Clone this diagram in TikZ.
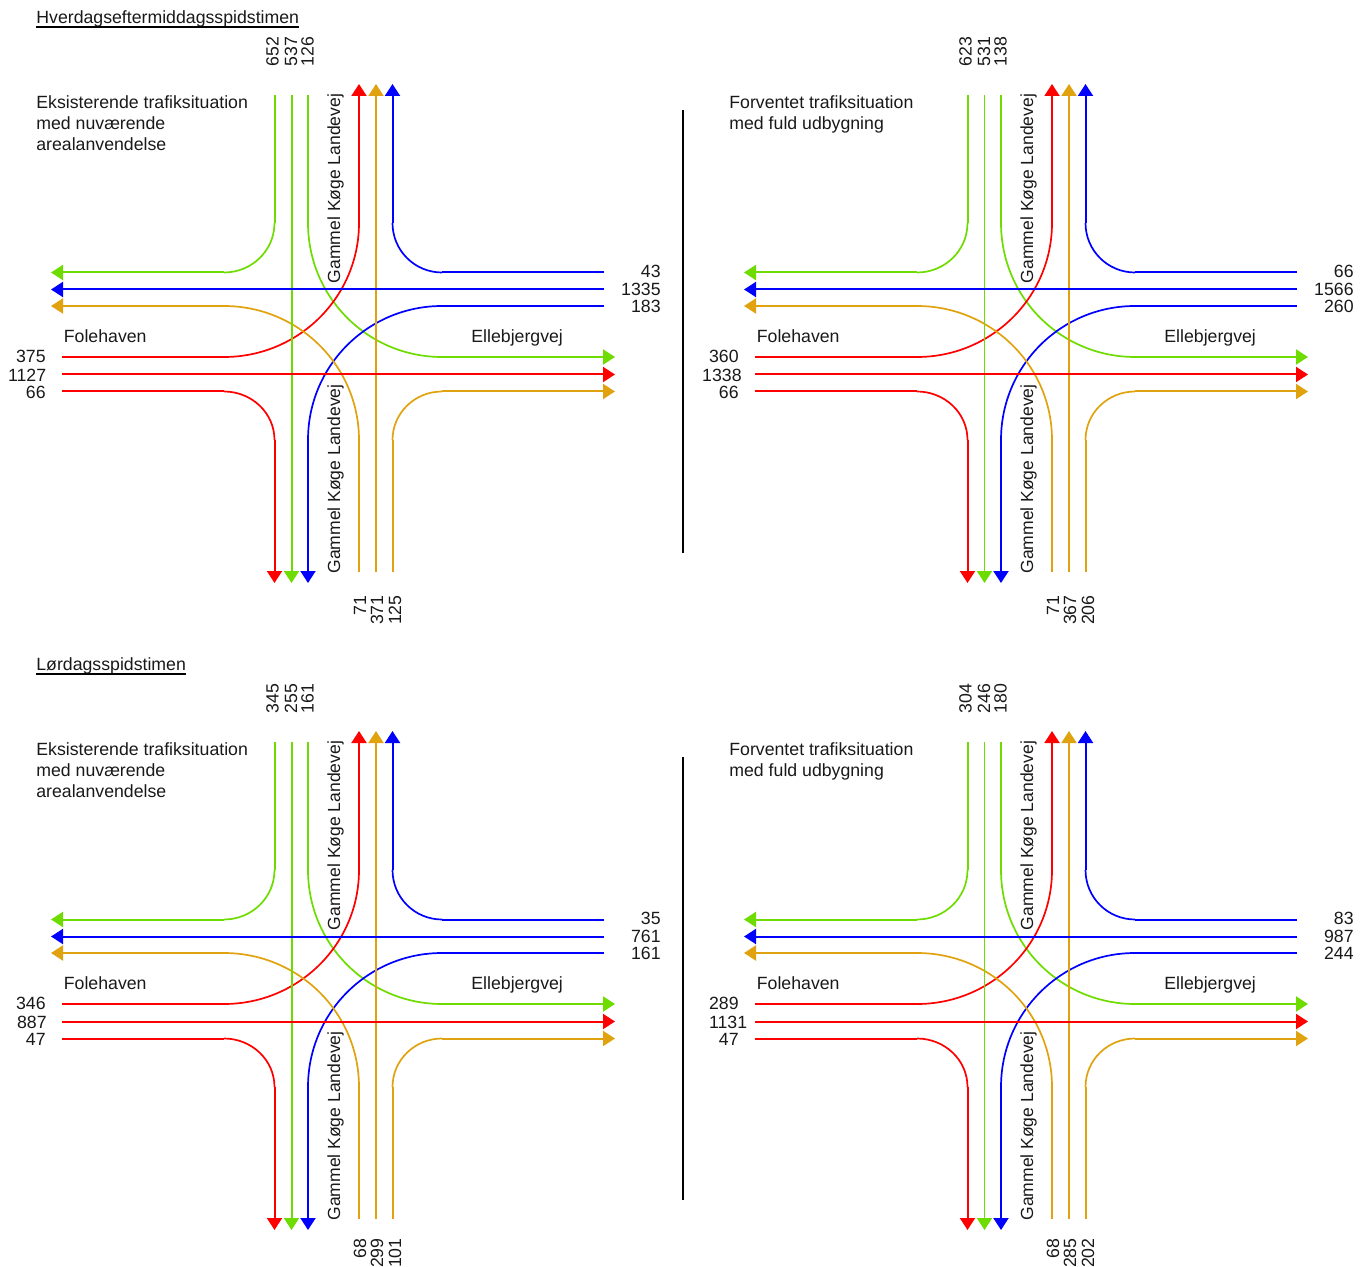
\documentclass[tikz,border=0pt]{standalone}
\usepackage{fontspec}
\setmainfont{Liberation Sans}
\usepackage{tikz}
\usetikzlibrary{arrows.meta}

\definecolor{vejgroen}{HTML}{6EDC00}
\definecolor{vejgul}{HTML}{E0A30F}
\definecolor{vejrod}{HTML}{FF0000}
\definecolor{vejblaa}{HTML}{0000FF}

\tikzset{
  tekst/.style={inner sep=0pt, font=\fontsize{8.85}{10.5}\selectfont, text=black!90},
  vejnavn/.style={tekst, anchor=base west},
  lodret/.style={inner sep=0pt, font=\fontsize{8.77}{10.5}\selectfont, text=black!90, rotate=90, anchor=base west},
  tal/.style={tekst, anchor=east},
  ben/.style={line width=1pt},
  sving/.style={line width=0.85pt},
  pil/.style={-{Triangle[length=6pt,width=7.5pt]}}
}

\begin{document}
\begin{tikzpicture}[x=0.5pt,y=-0.5pt]
\useasboundingbox (0,0) rectangle (1370,1267);

\node[tekst, anchor=base west] (titelA) at (36,23.5) {Hverdagseftermiddagsspidstimen};
\node[tekst, anchor=base west] (titelB) at (36,670) {Lørdagsspidstimen};
\draw[ben] ([yshift=-1.9pt]titelA.base west) -- ([yshift=-1.9pt]titelA.base east);
\draw[ben] ([yshift=-1.9pt]titelB.base west) -- ([yshift=-1.9pt]titelB.base east);

\node[tekst, anchor=north west, align=left] (tekstA) at (36,95) {Eksisterende trafiksituation\\med nuværende\\arealanvendelse};
\node[tekst, anchor=north west, align=left] (tekstB) at (729,95) {Forventet trafiksituation\\med fuld udbygning};
\node[tekst, anchor=north west, align=left] (tekstC) at (36,742) {Eksisterende trafiksituation\\med nuværende\\arealanvendelse};
\node[tekst, anchor=north west, align=left] (tekstD) at (729,742) {Forventet trafiksituation\\med fuld udbygning};

\coordinate (skilleA) at (683,110);
\coordinate (skilleB) at (683,553);
\coordinate (skilleC) at (683,757);
\coordinate (skilleD) at (683,1200);
\draw[ben] (skilleA) -- (skilleB);
\draw[ben] (skilleC) -- (skilleD);

\foreach \dx/\dy/\ta/\tb/\tc/\ra/\rb/\rc/\la/\lb/\lc/\lx/\ba/\bb/\bc/\by/\wg/\wo in {
  0/0/652/537/126/43/1335/183/375/1127/66/46.5/71/371/125/595/1/1,
  693/0/623/531/138/66/1566/260/360/1338/66/49/71/367/206/595/0.9/1,
  0/647/345/255/161/35/761/161/346/887/47/47/68/299/101/591/1/1,
  693/647/304/246/180/83/987/244/289/1131/47/54.5/68/285/202/591/0.9/0.9}
{
\begin{scope}[shift={(\dx,\dy)}]
\foreach \n/\x/\st/\sb in {1/274.5/95/583, 2/291.5/95/583, 3/308/95/583, 4/359/84/572, 5/376/84/572, 6/392.5/84/572}{
  \coordinate (T\n) at (\x,\st);
  \coordinate (B\n) at (\x,\sb);
  \coordinate (U\n) at (\x,223);
  \coordinate (D\n) at (\x,440);
}
\foreach \n/\y/\sl/\sr in {1/272.5/51/604, 2/289.5/51/604, 3/306/51/604, 4/357/62/615, 5/374.5/62/615, 6/391.5/62/615}{
  \coordinate (L\n) at (\sl,\y);
  \coordinate (R\n) at (\sr,\y);
  \coordinate (H\n) at (224,\y);
  \coordinate (K\n) at (442,\y);
}

\foreach \col/\s/\m/\k/\e/\o/\i in {
  vejgroen/T1/U1/H1/L1/270/0,
  vejgroen/T3/U3/K4/R4/270/180,
  vejblaa/R1/K1/U6/T6/180/270,
  vejblaa/R3/K3/D3/B3/180/90,
  vejrod/L4/H4/U4/T4/0/270,
  vejrod/L6/H6/D1/B1/0/90,
  vejgul/B6/D6/K6/R6/90/180,
  vejgul/B4/D4/H3/L3/90/0}{
  \draw[ben, color=\col] (\s) -- (\m);
  \draw[sving, color=\col] (\m) to[out=\o,in=\i] (\k);
  \draw[ben, pil, color=\col] (\k) -- (\e);
}

\draw[pil, color=vejgroen, line width=\wg pt] (T2) -- (B2);
\draw[pil, color=vejgul, line width=\wo pt] (B5) -- (T5);
\draw[ben, pil, color=vejblaa] (R2) -- (L2);
\draw[ben, pil, color=vejrod] (L5) -- (R5);

\node[vejnavn] (folehaven) at (63.5,342.5) {Folehaven};
\node[vejnavn] (ellebjerg) at (471,342.5) {Ellebjergvej};
\node[lodret] (koegeN) at (340,283.5) {Gammel Køge Landevej};
\node[lodret] (koegeS) at (340,574) {Gammel Køge Landevej};

\node[tekst, rotate=90, anchor=west] (ta) at (272.5,67) {\ta};
\node[tekst, rotate=90, anchor=west] (tb) at (291,67) {\tb};
\node[tekst, rotate=90, anchor=west] (tc) at (307.5,67) {\tc};
\node[tekst, rotate=90, anchor=east] (ba) at (360,\by) {\ba};
\node[tekst, rotate=90, anchor=east] (bb) at (377,\by) {\bb};
\node[tekst, rotate=90, anchor=east] (bc) at (395,\by) {\bc};
\node[tal] (ra) at (661,271) {\ra};
\node[tal] (rb) at (661,289) {\rb};
\node[tal] (rc) at (661,306) {\rc};
\node[tal] (la) at (46,356.5) {\la};
\node[tal] (lb) at (\lx,375.5) {\lb};
\node[tal] (lc) at (46,392.5) {\lc};
\end{scope}
}
\end{tikzpicture}
\end{document}
